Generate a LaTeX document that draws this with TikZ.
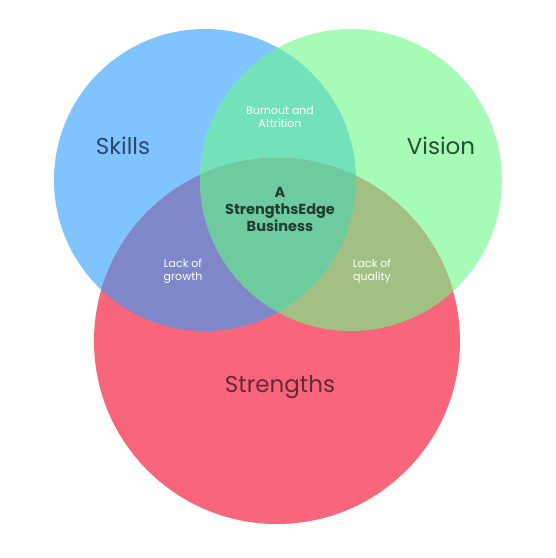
\documentclass[tikz,border=0pt]{standalone}
\usepackage{fontspec}
\setmainfont{Poppins}
\usepackage{tikz}
\usetikzlibrary{positioning}
\definecolor{skillblue}{RGB}{128,196,255}
\definecolor{visiongreen}{RGB}{166,251,183}
\definecolor{strengthred}{RGB}{249,102,123}
\definecolor{skvisteal}{RGB}{115,226,186}
\definecolor{skstrpurple}{RGB}{126,135,200}
\definecolor{visstrolive}{RGB}{163,192,132}
\definecolor{coregreen}{RGB}{110,203,160}
\definecolor{skilltext}{RGB}{45,72,105}
\definecolor{visiontext}{RGB}{40,78,55}
\definecolor{strtext}{RGB}{100,40,55}
\definecolor{coretext}{RGB}{35,60,48}

\begin{document}
\begin{tikzpicture}[
  x=1pt, y=-1pt,
  setlbl/.style={font=\fontsize{23}{27}\selectfont},
  zonelbl/.style={text=white, font=\fontsize{11}{13}\selectfont, align=center},
  corelbl/.style={text=coretext, font=\bfseries\fontsize{14.5}{17}\selectfont, align=center},
]
\useasboundingbox (0,0) rectangle (556,558);

% set centres
\coordinate (skc) at (205,180);
\coordinate (visc) at (351,180);
\coordinate (strc) at (277,341);

% single sets
\fill[skillblue] (skc) circle (151pt);
\fill[visiongreen] (visc) circle (151pt);
\fill[strengthred] (strc) circle (183pt);

% pairwise overlaps
\begin{scope}
  \clip (skc) circle (151pt);
  \fill[skvisteal] (visc) circle (151pt);
  \fill[skstrpurple] (strc) circle (183pt);
\end{scope}
\begin{scope}
  \clip (visc) circle (151pt);
  \fill[visstrolive] (strc) circle (183pt);
\end{scope}
% centre
\begin{scope}
  \clip (skc) circle (151pt);
  \clip (visc) circle (151pt);
  \fill[coregreen] (strc) circle (183pt);
\end{scope}

% labels
\node[setlbl, text=skilltext] (skills) at (123,146) {Skills};
\node[setlbl, text=visiontext] (vision) at (441,146) {Vision};
\node[setlbl, text=strtext] (strengths) at (280,387) {Strengths};

\node[zonelbl] (burnout) at (280,117) {Burnout and\\Attrition};
\node[zonelbl] (growth) at (183,271) {Lack of\\growth};
\node[zonelbl] (quality) at (372,271) {Lack of\\quality};
\node[corelbl] (core) at (280,209) {A\\StrengthsEdge\\Business};
\end{tikzpicture}
\end{document}
